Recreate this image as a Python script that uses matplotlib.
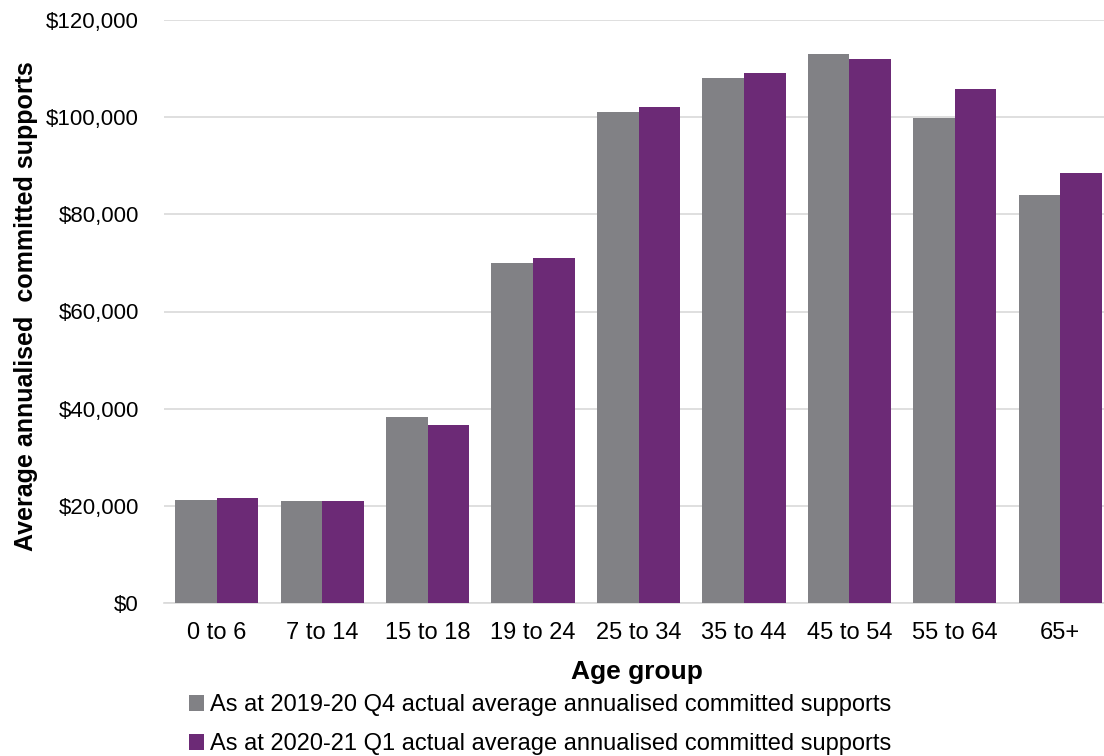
import numpy as np
import matplotlib.pyplot as plt
from matplotlib.ticker import FuncFormatter

age_groups = ["0 to 6", "7 to 14", "15 to 18", "19 to 24", "25 to 34",
              "35 to 44", "45 to 54", "55 to 64", "65+"]
q4_2019_20 = [21300, 20900, 38200, 70000, 101000, 108100, 113000, 99900, 84000]
q1_2020_21 = [21600, 20900, 36600, 71000, 102000, 109100, 112000, 105800, 88500]
series_labels = [
    "As at 2019-20 Q4 actual average annualised committed supports",
    "As at 2020-21 Q1 actual average annualised committed supports",
]
colors = ["#818185", "#6C2A76"]

plt.rcParams.update({
    "font.family": ["Liberation Sans", "DejaVu Sans"],
    "font.size": 17,
})

W, H = 1104, 756
fig = plt.figure(figsize=(W / 100, H / 100), dpi=100)
# axes runs slightly past the right edge, as in the original
ax = fig.add_axes([164 / W, (H - 603) / H, (1113 - 164) / W, (603 - 20) / H])

x = np.arange(len(age_groups))
w = 0.395
b1 = ax.bar(x - w / 2, q4_2019_20, width=w, color=colors[0], zorder=3,
            label=series_labels[0])
b2 = ax.bar(x + w / 2, q1_2020_21, width=w, color=colors[1], zorder=3,
            label=series_labels[1])

ax.set_xlim(-0.5, len(age_groups) - 0.5)
ax.set_ylim(0, 120000)
ax.set_yticks(np.arange(0, 120001, 20000))
ax.yaxis.set_major_formatter(FuncFormatter(lambda v, _: f"${v:,.0f}"))
ax.set_xticks(x)
ax.set_xticklabels(age_groups)
ax.tick_params(axis="both", length=0, colors="black")
ax.tick_params(axis="x", labelsize=17, pad=14)
ax.tick_params(axis="y", labelsize=16, pad=18)

ax.grid(axis="y", color="#d9d9d9", linewidth=1.2, zorder=0)
for s in ["top", "right", "left"]:
    ax.spines[s].set_visible(False)
ax.spines["bottom"].set_color("#d9d9d9")
ax.spines["bottom"].set_linewidth(1.2)

fig.text(637 / W, 1 - 672 / H, "Age group", ha="center", va="center",
         fontsize=19, fontweight="bold")
fig.text(26 / W, 1 - 306 / H, "Average annualised  committed supports",
         rotation=90, ha="center", va="center", fontsize=18, fontweight="bold")

fig.legend(handles=[b1, b2], loc="upper left",
           bbox_to_anchor=(189 / W, 1 - 694 / H), frameon=False,
           fontsize=17, handlelength=0.65, handleheight=0.65, handletextpad=0.25,
           labelspacing=0.72, borderpad=0, borderaxespad=0)

fig.savefig("out.png", dpi=100)
